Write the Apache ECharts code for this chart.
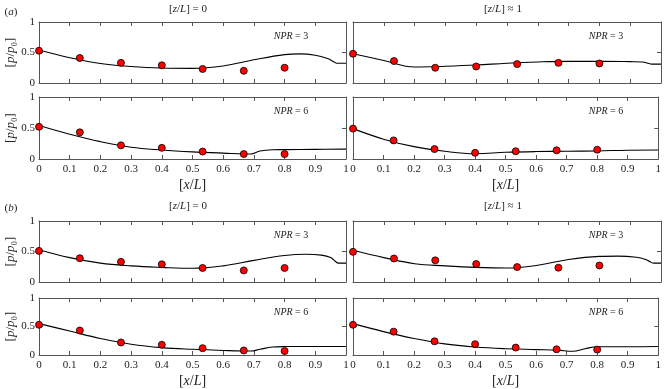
<!DOCTYPE html>
<html>
<head>
<meta charset="utf-8">
<script src="https://cdn.jsdelivr.net/npm/echarts@6/dist/echarts.min.js"></script>
<style>
  html, body { margin: 0; padding: 0; background: #fff; }
  #chart { width: 664px; height: 389px; }
</style>
</head>
<body>
<div id="chart"></div>
<script>
// measured points (same x stations in every panel)
var expX = [0, 0.133, 0.267, 0.4, 0.533, 0.667, 0.8];

var expA_z0_n3 = [0.53, 0.41, 0.33, 0.29, 0.23, 0.20, 0.25];
var expA_z1_n3 = [0.48, 0.36, 0.25, 0.27, 0.31, 0.33, 0.32];
var expA_z0_n6 = [0.52, 0.43, 0.22, 0.18, 0.12, 0.08, 0.08];
var expA_z1_n6 = [0.49, 0.30, 0.16, 0.10, 0.125, 0.14, 0.15];
var expB_z0_n3 = [0.51, 0.39, 0.33, 0.29, 0.23, 0.19, 0.23];
var expB_z1_n3 = [0.495, 0.385, 0.355, 0.295, 0.245, 0.235, 0.27];
var expB_z0_n6 = [0.53, 0.43, 0.22, 0.18, 0.12, 0.08, 0.07];
var expB_z1_n6 = [0.53, 0.41, 0.24, 0.19, 0.13, 0.10, 0.095];

// simulation curves
var simA_z0_n3_x = [0, 0.1, 0.2, 0.3, 0.4, 0.5, 0.6, 0.7, 0.8, 0.85, 0.9, 0.94, 0.96, 0.97, 1];
var simA_z0_n3 = [0.54, 0.415, 0.32, 0.27, 0.245, 0.24, 0.28, 0.38, 0.465, 0.478, 0.455, 0.40, 0.35, 0.325, 0.325];

var simA_z1_n3_x = [0, 0.1, 0.2, 0.3, 0.4, 0.5, 0.6, 0.7, 0.8, 0.9, 0.94, 0.96, 0.97, 1];
var simA_z1_n3 = [0.48, 0.37, 0.262, 0.275, 0.295, 0.325, 0.345, 0.355, 0.355, 0.35, 0.345, 0.32, 0.31, 0.31];

var simA_z0_n6_x = [0, 0.1, 0.2, 0.3, 0.4, 0.5, 0.6, 0.67, 0.69, 0.72, 0.76, 0.8, 0.9, 1];
var simA_z0_n6 = [0.54, 0.40, 0.28, 0.19, 0.145, 0.115, 0.095, 0.08, 0.08, 0.13, 0.15, 0.152, 0.155, 0.16];

var simA_z1_n6_x = [0, 0.1, 0.2, 0.3, 0.4, 0.5, 0.6, 0.7, 0.8, 0.9, 1];
var simA_z1_n6 = [0.49, 0.32, 0.20, 0.125, 0.085, 0.108, 0.12, 0.125, 0.13, 0.142, 0.145];

var simB_z0_n3_x = [0, 0.1, 0.2, 0.3, 0.4, 0.5, 0.6, 0.7, 0.8, 0.87, 0.92, 0.95, 0.965, 0.975, 1];
var simB_z0_n3 = [0.53, 0.40, 0.31, 0.265, 0.24, 0.225, 0.265, 0.355, 0.435, 0.456, 0.44, 0.40, 0.34, 0.31, 0.31];

var simB_z1_n3_x = [0, 0.1, 0.2, 0.3, 0.4, 0.5, 0.6, 0.7, 0.8, 0.86, 0.92, 0.95, 0.965, 0.975, 1];
var simB_z1_n3 = [0.52, 0.40, 0.30, 0.265, 0.24, 0.23, 0.275, 0.37, 0.42, 0.425, 0.405, 0.37, 0.33, 0.31, 0.31];

var simB_z0_n6_x = [0, 0.1, 0.2, 0.3, 0.4, 0.5, 0.6, 0.69, 0.72, 0.76, 0.8, 0.9, 1];
var simB_z0_n6 = [0.55, 0.42, 0.29, 0.19, 0.13, 0.10, 0.08, 0.07, 0.10, 0.14, 0.148, 0.15, 0.15];

var simB_z1_n6_x = [0, 0.1, 0.2, 0.3, 0.4, 0.5, 0.6, 0.67, 0.72, 0.76, 0.8, 0.9, 1];
var simB_z1_n6 = [0.55, 0.41, 0.29, 0.195, 0.14, 0.11, 0.095, 0.085, 0.065, 0.11, 0.145, 0.145, 0.15];

var xTicks = { min: 0, max: 1, interval: 0.1 };
var yTicks = { min: 0, max: 1, interval: 0.5 };

var FONT = 'Liberation Serif';
var AXIS_COL = '#555';
var TXT_COL = '#222';

// layout: [left, top, width, height]
var panels = [
  { box: [39, 22, 307, 61], exp: expA_z0_n3, sx: simA_z0_n3_x, sy: simA_z0_n3, npr: 3, bottom: false, leftCol: true },
  { box: [353, 22, 308, 61], exp: expA_z1_n3, sx: simA_z1_n3_x, sy: simA_z1_n3, npr: 3, bottom: false, leftCol: false },
  { box: [39, 97, 307, 62], exp: expA_z0_n6, sx: simA_z0_n6_x, sy: simA_z0_n6, npr: 6, bottom: true, leftCol: true },
  { box: [353, 97, 308, 62], exp: expA_z1_n6, sx: simA_z1_n6_x, sy: simA_z1_n6, npr: 6, bottom: true, leftCol: false },
  { box: [39, 221, 307, 61], exp: expB_z0_n3, sx: simB_z0_n3_x, sy: simB_z0_n3, npr: 3, bottom: false, leftCol: true },
  { box: [353, 221, 308, 61], exp: expB_z1_n3, sx: simB_z1_n3_x, sy: simB_z1_n3, npr: 3, bottom: false, leftCol: false },
  { box: [39, 298, 307, 60], exp: expB_z0_n6, sx: simB_z0_n6_x, sy: simB_z0_n6, npr: 6, bottom: true, leftCol: true },
  { box: [353, 298, 308, 60], exp: expB_z1_n6, sx: simB_z1_n6_x, sy: simB_z1_n6, npr: 6, bottom: true, leftCol: false }
];

function nameRich(size) {
  return {
    i: { fontStyle: 'italic', fontFamily: FONT, fontSize: size, color: TXT_COL },
    n: { fontFamily: FONT, fontSize: size, color: TXT_COL }
  };
}

function zip(xs, ys) {
  return xs.map(function (x, k) { return [x, ys[k]]; });
}

var grids = [], xAxes = [], yAxes = [], series = [], graphics = [];

panels.forEach(function (p, i) {
  grids.push({ left: p.box[0], top: p.box[1], width: p.box[2], height: p.box[3], containLabel: false });

  var line = { show: true, onZero: false, lineStyle: { color: AXIS_COL, width: 1 } };
  var tick = { show: true, inside: true, length: 4, lineStyle: { color: AXIS_COL } };

  xAxes.push({
    type: 'value', gridIndex: i, position: 'bottom',
    min: xTicks.min, max: xTicks.max, interval: xTicks.interval,
    axisLine: line, axisTick: tick, splitLine: { show: false },
    axisLabel: { show: p.bottom, color: TXT_COL, fontFamily: FONT, fontSize: 11, margin: 5 },
    name: p.bottom ? '{n|[}{i|x}{n|/}{i|L}{n|]}' : '',
    nameLocation: 'middle', nameGap: 19,
    nameTextStyle: { rich: nameRich(14) }
  });
  xAxes.push({
    type: 'value', gridIndex: i, position: 'top',
    min: xTicks.min, max: xTicks.max, interval: xTicks.interval,
    axisLine: line, axisTick: tick, splitLine: { show: false },
    axisLabel: { show: false }
  });
  yAxes.push({
    type: 'value', gridIndex: i, position: 'left',
    min: yTicks.min, max: yTicks.max, interval: yTicks.interval,
    axisLine: line, axisTick: tick, splitLine: { show: false },
    axisLabel: { show: p.leftCol, color: TXT_COL, fontFamily: FONT, fontSize: 11, margin: 4 },
    name: p.leftCol ? '{n|[}{i|p}{n|/}{i|p}{n|₀]}' : '',
    nameLocation: 'middle', nameGap: 19, nameRotate: 90,
    nameTextStyle: { rich: nameRich(13) }
  });
  yAxes.push({
    type: 'value', gridIndex: i, position: 'right',
    min: yTicks.min, max: yTicks.max, interval: yTicks.interval,
    axisLine: line, axisTick: tick, splitLine: { show: false },
    axisLabel: { show: false }
  });

  series.push({
    type: 'line', xAxisIndex: 2 * i, yAxisIndex: 2 * i,
    data: zip(p.sx, p.sy), showSymbol: false, smooth: 0.4,
    lineStyle: { color: '#000', width: 1.1 }, silent: true, z: 2
  });
  series.push({
    type: 'scatter', xAxisIndex: 2 * i, yAxisIndex: 2 * i,
    data: zip(expX, p.exp), symbolSize: 7,
    itemStyle: { color: '#ff0000', borderColor: '#000', borderWidth: 0.8, opacity: 1 },
    z: 3
  });

  graphics.push({
    type: 'text', x: p.box[0] + p.box[2] - 55, y: p.box[1] + 14,
    style: {
      text: '{i|NPR} = ' + p.npr, fontFamily: FONT, fontSize: 10, fill: TXT_COL,
      align: 'center', verticalAlign: 'middle',
      rich: { i: { fontStyle: 'italic', fontFamily: FONT, fontSize: 10, fill: TXT_COL } }
    }
  });
});

var headRich = { i: { fontStyle: 'italic', fontFamily: FONT, fontSize: 11, fill: TXT_COL } };
[
  { t: '({i|a})', x: 11, y: 12 },
  { t: '[{i|z}/{i|L}] = 0', x: 188, y: 9 },
  { t: '[{i|z}/{i|L}] ≈ 1', x: 503, y: 9 },
  { t: '({i|b})', x: 11, y: 208 },
  { t: '[{i|z}/{i|L}] = 0', x: 188, y: 206 },
  { t: '[{i|z}/{i|L}] ≈ 1', x: 503, y: 206 }
].forEach(function (h) {
  graphics.push({
    type: 'text', x: h.x, y: h.y,
    style: { text: h.t, fontFamily: FONT, fontSize: 11, fill: TXT_COL, align: 'center', verticalAlign: 'middle', rich: headRich }
  });
});

var chart = echarts.init(document.getElementById('chart'), null, { renderer: 'canvas' });
chart.setOption({
  animation: false,
  backgroundColor: '#fff',
  grid: grids,
  xAxis: xAxes,
  yAxis: yAxes,
  series: series,
  graphic: graphics
});
</script>
</body>
</html>
